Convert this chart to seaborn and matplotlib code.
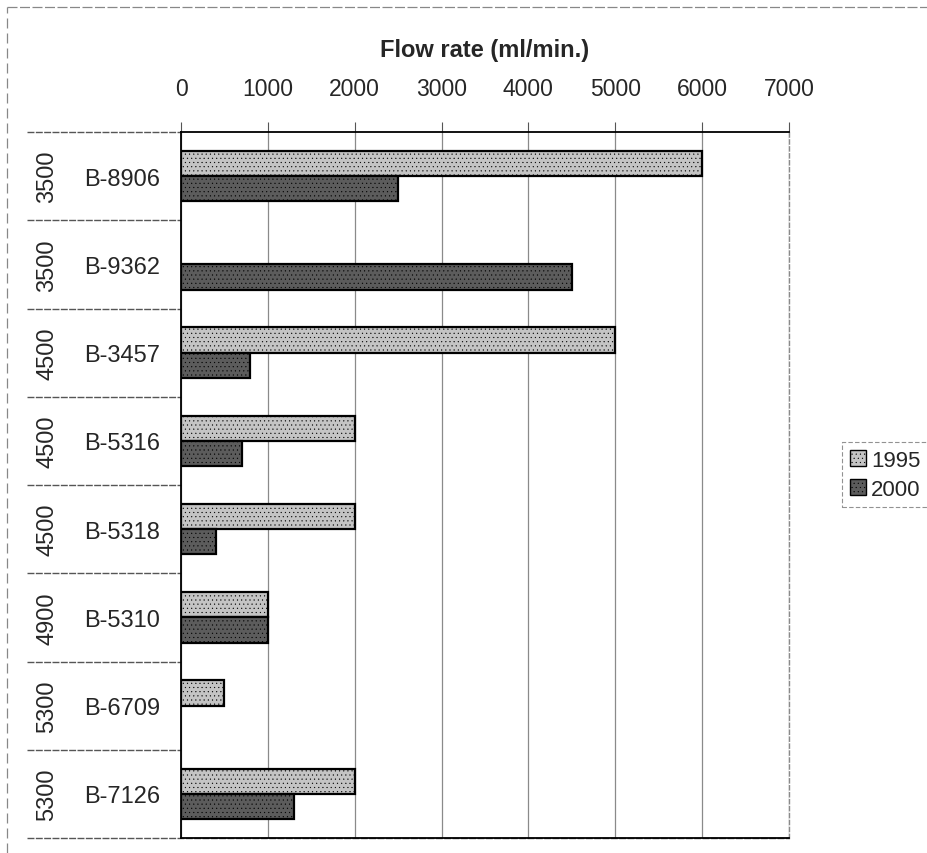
import numpy as np
import pandas as pd
import matplotlib
matplotlib.use("Agg")
import matplotlib.pyplot as plt
import matplotlib.transforms as mtransforms
from matplotlib.lines import Line2D
from matplotlib.patches import Patch
import seaborn as sns

# ---- data ----
wells = ["B-8906", "B-9362", "B-3457", "B-5316", "B-5318", "B-5310", "B-6709", "B-7126"]
depths = ["3500", "3500", "4500", "4500", "4500", "4900", "5300", "5300"]
flow_1995 = [6000, np.nan, 5000, 2000, 2000, 1000, 500, 2000]
flow_2000 = [2500, 4500, 800, 700, 400, 1000, np.nan, 1300]
years = ["1995", "2000"]
x_ticks = [0, 1000, 2000, 3000, 4000, 5000, 6000, 7000]
title = "Flow rate (ml/min.)"

df = pd.DataFrame({
    "well": wells * 2,
    "flow": flow_1995 + flow_2000,
    "year": [years[0]] * len(wells) + [years[1]] * len(wells),
})

sns.set_theme(style="white")
plt.rcParams["font.family"] = ["Liberation Sans", "DejaVu Sans"]
matplotlib.rcParams["hatch.linewidth"] = 0.3

W, H = 927, 854
fig = plt.figure(figsize=(W / 100, H / 100), dpi=100)
L, R, T, B = 181, 789, 133, 839
ax = fig.add_axes([L / W, 1 - B / H, (R - L) / W, (B - T) / H])

palette = {"1995": "#c4c4c4", "2000": "#5c5c5c"}
sns.barplot(data=df, y="well", x="flow", hue="year", order=wells, hue_order=years,
            palette=palette, orient="h", width=0.57, dodge=True, ax=ax,
            edgecolor="black", linewidth=1.6, legend=False, saturation=1)

for p in ax.patches:
    p.set_hatch("....")

ax.set_xlim(0, 7000)
ax.set_ylim(len(wells) - 0.5, -0.5)
ax.xaxis.tick_top()
ax.set_xticks(x_ticks)
ax.set_xticklabels([str(t) for t in x_ticks], fontsize=16.5)
ax.tick_params(axis="x", which="major", direction="out", length=7, width=0.8,
               color="#555555", pad=16, top=True, bottom=False)
ax.set_yticks(range(len(wells)))
ax.set_yticklabels(wells, fontsize=17)
ax.tick_params(axis="y", length=0, pad=15)
ax.set_xlabel("")
ax.set_ylabel("")

ax.grid(axis="x", color="#8a8a8a", linewidth=0.9)
ax.set_axisbelow(True)

for s in ["left", "bottom", "top"]:
    ax.spines[s].set_color("black")
    ax.spines[s].set_linewidth(1.3)
ax.spines["right"].set_color("#8a8a8a")
ax.spines["right"].set_linewidth(1.0)
ax.spines["right"].set_linestyle((0, (3, 2)))

fig.text((L + R) / 2 / W, 1 - 50 / H, title, ha="center", va="center",
         fontsize=17, fontweight="bold")

# second-level category labels and separators
bt = mtransforms.blended_transform_factory(fig.transFigure, ax.transData)
for i, d in enumerate(depths):
    ax.text(47 / W, i, d, transform=bt, rotation=90, ha="center", va="center",
            fontsize=17, clip_on=False)
for k in range(len(wells) + 1):
    y = k - 0.5
    x_end = R / W if k == len(wells) else L / W
    ax.add_line(Line2D([27 / W, x_end], [y, y], transform=bt, color="#555555",
                       linewidth=1.0, linestyle=(0, (5, 1)), clip_on=False))

# outer chart border
fig.add_artist(Line2D([7 / W, 1], [1 - 8 / H, 1 - 8 / H], transform=fig.transFigure,
                      color="#888888", linewidth=0.9, linestyle=(0, (8, 2))))
fig.add_artist(Line2D([7 / W, 7 / W], [0, 1 - 8 / H], transform=fig.transFigure,
                      color="#888888", linewidth=0.9, linestyle=(0, (8, 4))))

# legend
handles = [Patch(facecolor=palette[y], edgecolor="black", hatch="....", linewidth=1.0)
           for y in years]
leg = fig.legend(handles, years, loc="upper left",
                 bbox_to_anchor=(842 / W, 1 - 443 / H), frameon=True, fontsize=16,
                 handlelength=0.75, handleheight=0.75, handletextpad=0.2,
                 borderpad=0.35, labelspacing=0.35, fancybox=False,
                 borderaxespad=0)
leg.get_frame().set_edgecolor("#777777")
leg.get_frame().set_linewidth(0.8)
leg.get_frame().set_linestyle((0, (4, 2)))

fig.savefig("out.png", dpi=100)
